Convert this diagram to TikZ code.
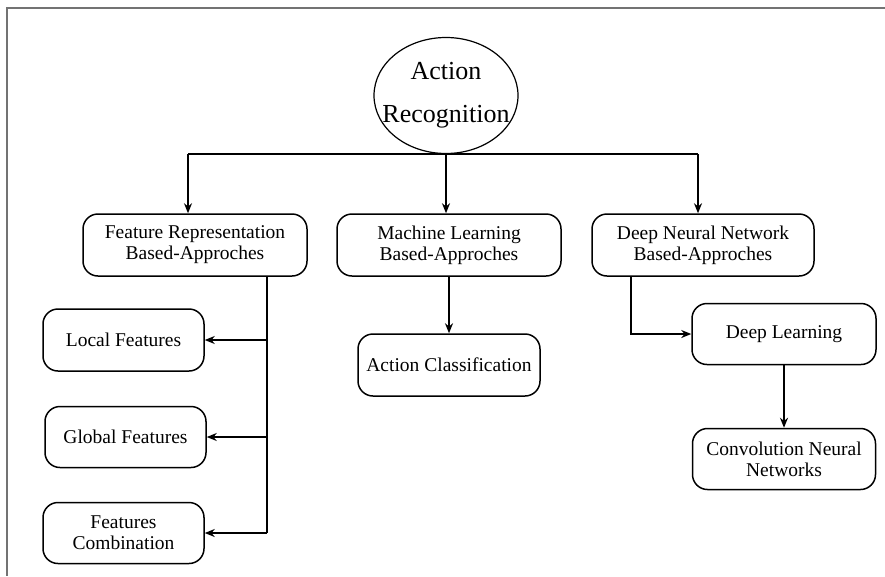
\documentclass[tikz,border=0pt]{standalone}
\usepackage{fontspec}
\setmainfont{Liberation Serif}
\usetikzlibrary{shapes.geometric,arrows.meta}

\tikzset{
  box/.style={draw, line width=1.5pt, rounded corners=15pt, align=center,
    inner sep=0pt, font=\fontsize{19.5}{21}\selectfont},
  rootnode/.style={draw, ellipse, line width=1.2pt, align=center,
    inner xsep=-16pt, inner ysep=0pt,
    minimum width=144pt, minimum height=116pt, font=\fontsize{26}{43}\selectfont},
  link/.style={line width=1.8pt},
  arrowlink/.style={line width=1.8pt, -{Stealth[length=10pt,width=8pt]}},
  frame/.style={draw=black!55, line width=2pt}
}

\begin{document}
\begin{tikzpicture}[x=1pt, y=-1pt]
  \useasboundingbox (0,0) rectangle (885,576);

  % outer frame (top and left edges)
  \draw[frame] (885,8) -- (7,8) -- (7,576);

  % root
  \node[rootnode] (AR) at (446,95.5) {Action\\Recognition};

  % first level
  \node[box, minimum width=224pt, minimum height=62pt] (FR) at (195,245)
    {Feature Representation\\Based-Approches};
  \node[box, minimum width=224pt, minimum height=62pt] (ML) at (449,245)
    {Machine Learning\\Based-Approches};
  \node[box, minimum width=222pt, minimum height=62pt] (DN) at (703,245)
    {Deep Neural Network\\Based-Approches};

  % feature representation branch
  \node[box, minimum width=161pt, minimum height=62pt] (LF) at (123.5,340) {Local Features};
  \node[box, minimum width=161pt, minimum height=61pt] (GF) at (125.5,437) {Global Features};
  \node[box, minimum width=161pt, minimum height=61pt] (FC) at (123.5,533) {Features\\Combination};

  % machine learning branch
  \node[box, minimum width=182pt, minimum height=62pt] (AC) at (449,365) {Action Classification};

  % deep neural network branch
  \node[box, minimum width=184pt, minimum height=61pt] (DL) at (784,334) {Deep Learning};
  \node[box, minimum width=183pt, minimum height=61pt] (CNN) at (784,459)
    {Convolution Neural\\Networks};

  % bus below the root
  \coordinate (busL) at (188,154);
  \coordinate (busR) at (698,154);
  \draw[link] (busL) -- (busR);
  \draw[arrowlink] (busL) -- (busL |- FR.north);
  \draw[arrowlink] (AR.south) -- (AR.south |- ML.north);
  \draw[arrowlink] (busR) -- (busR |- DN.north);

  % trunk of the feature representation branch
  \coordinate (trunk) at ([xshift=72pt]FR.south);
  \draw[link] (trunk) -- (trunk |- FC.east);
  \draw[arrowlink] (trunk |- LF.east) -- (LF.east);
  \draw[arrowlink] (trunk |- GF.east) -- (GF.east);
  \draw[arrowlink] (trunk |- FC.east) -- (FC.east);

  % machine learning to classification
  \draw[arrowlink] (ML.south) -- (AC.north);

  % deep neural network chain
  \coordinate (dnfoot) at ([xshift=-72pt]DN.south);
  \draw[arrowlink] (dnfoot) |- (DL.west);
  \draw[arrowlink] (DL.south) -- (CNN.north);
\end{tikzpicture}
\end{document}
